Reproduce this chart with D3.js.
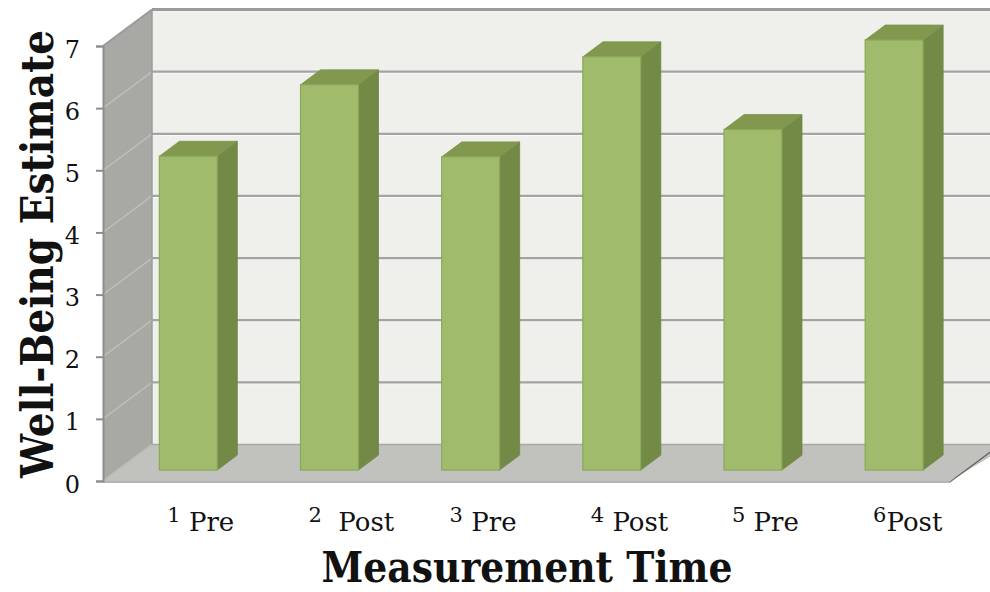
<!DOCTYPE html>
<html>
<head>
<meta charset="utf-8">
<script src="https://cdn.jsdelivr.net/npm/d3@7"></script>
<style>
  html, body { margin: 0; padding: 0; background: #ffffff; }
  svg { display: block; }
  text { font-family: "DejaVu Serif", "Liberation Serif", serif; fill: #111; }
</style>
</head>
<body>
<svg id="chart" width="990" height="592"></svg>
<script>
// Measurement occasions and mean well-being estimates
const timeLabels = ["1 Pre", "2  Post", "3 Pre", "4 Post", "5 Pre", "6Post"];
const wellBeing = [5.05, 6.2, 5.04, 6.65, 5.48, 6.92];
const yTicks = [0, 1, 2, 3, 4, 5, 6, 7];
const xTitle = "Measurement Time";
const yTitle = "Well-Being Estimate";

const svg = d3.select("#chart");

// Front plane of the 3-D box and its depth offset
const y = d3.scaleLinear().domain([0, 7]).range([481, 46]);
const x = d3.scaleBand().domain(timeLabels).range([103, 950])
  .paddingInner(0.59).paddingOuter(0.295);
const DX = 49, DY = -36.5;          // full depth of the box
const fFront = 0.30, fBack = 0.71;  // bar depth within the box
const yMax = d3.max(yTicks);
const rightEdge = 1000;

const pt = (px, py) => px + "," + py;
const poly = pts => pts.map(p => pt(p[0], p[1])).join(" ");

const box = svg.append("g");

// Back wall
box.append("polygon")
  .attr("points", poly([[103 + DX, y(yMax) + DY], [rightEdge, y(yMax) + DY],
                        [rightEdge, y(0) + DY], [103 + DX, y(0) + DY]]))
  .attr("fill", "#eff0ec");

// Left side wall
box.append("polygon")
  .attr("points", poly([[103, y(yMax)], [103 + DX, y(yMax) + DY],
                        [103 + DX, y(0) + DY], [103, y(0)]]))
  .attr("fill", "#a8a8a5");

// Floor
box.append("polygon")
  .attr("points", poly([[103, y(0)], [103 + DX, y(0) + DY],
                        [rightEdge + 10, y(0) + DY], [950, y(0)]]))
  .attr("fill", "#c1c2bd");

// Floor shadow edge
box.append("polyline")
  .attr("points", poly([[103, y(0) + 1], [950, y(0) + 1], [950 + DX, y(0) + DY + 1]]))
  .attr("fill", "none").attr("stroke", "#3a3a3a").attr("stroke-width", 1.2)
  .attr("opacity", 0.75);

// Gridlines on back wall and side wall
const grid = box.append("g");
yTicks.forEach(v => {
  if (v > 0) {
    grid.append("line")
      .attr("x1", 103 + DX).attr("x2", rightEdge)
      .attr("y1", y(v) + DY + 1.5).attr("y2", y(v) + DY + 1.5)
      .attr("stroke", "#ffffff").attr("stroke-width", 1).attr("opacity", 0.7);
    grid.append("line")
      .attr("x1", 103 + DX).attr("x2", rightEdge)
      .attr("y1", y(v) + DY).attr("y2", y(v) + DY)
      .attr("stroke", v === yMax ? "#9a9a9a" : "#a3a3a3")
      .attr("stroke-width", v === yMax ? 3 : 2.2);
  }
  grid.append("line")
    .attr("x1", 103).attr("y1", y(v))
    .attr("x2", 103 + DX).attr("y2", y(v) + DY)
    .attr("stroke", v === yMax ? "#9a9a9a" : "#bdbdba")
    .attr("stroke-width", v === yMax ? 2 : 1.6);
});
// Back corner edge
grid.append("line")
  .attr("x1", 103 + DX).attr("x2", 103 + DX)
  .attr("y1", y(yMax) + DY).attr("y2", y(0) + DY)
  .attr("stroke", "#9c9c99").attr("stroke-width", 1.5);
// Floor back edge
grid.append("line")
  .attr("x1", 103 + DX).attr("x2", rightEdge)
  .attr("y1", y(0) + DY).attr("y2", y(0) + DY)
  .attr("stroke", "#a8a8a6").attr("stroke-width", 1.5);

// Bars as shaded boxes
const bw = x.bandwidth();
const bars = svg.append("g").selectAll("g.bar")
  .data(timeLabels.map((c, i) => ({ c, v: wellBeing[i] })))
  .join("g").attr("class", "bar");

bars.each(function (d) {
  const g = d3.select(this);
  const x0 = x(d.c) + fFront * DX, x1 = x0 + bw;
  const yt = y(d.v) + fFront * DY, yb = y(0) + fFront * DY;
  const ddx = (fBack - fFront) * DX, ddy = (fBack - fFront) * DY;
  // right side face
  g.append("polygon")
    .attr("points", poly([[x1, yt], [x1 + ddx, yt + ddy], [x1 + ddx, yb + ddy], [x1, yb]]))
    .attr("fill", "#738a47").attr("stroke", "#6e8443").attr("stroke-width", 0.8);
  // top face
  g.append("polygon")
    .attr("points", poly([[x0, yt], [x0 + ddx, yt + ddy], [x1 + ddx, yt + ddy], [x1, yt]]))
    .attr("fill", "#83984f").attr("stroke", "#7d934b").attr("stroke-width", 0.8);
  // front face
  g.append("rect")
    .attr("x", x0).attr("y", yt).attr("width", bw).attr("height", yb - yt)
    .attr("fill", "#a1bb6c").attr("stroke", "#8ba85a").attr("stroke-width", 1.2);
});

// Value axis on the front-left edge
const yAxis = d3.axisLeft(y).tickValues(yTicks).tickFormat(d3.format("d"))
  .tickSize(7).tickPadding(16);
const ag = svg.append("g").attr("transform", "translate(103,0)").call(yAxis);
ag.select(".domain").attr("stroke", "#8e8e8e").attr("stroke-width", 2);
ag.selectAll(".tick line").attr("stroke", "#8e8e8e").attr("stroke-width", 2);
ag.selectAll(".tick text")
  .attr("font-family", "DejaVu Serif, serif").attr("font-size", 24)
  .attr("fill", "#111").attr("dy", "0.46em");

// Category labels: raised occasion number followed by the phase
const xl = svg.append("g");
timeLabels.forEach(c => {
  const cx = x(c) + fFront * DX + bw / 2;
  const t = xl.append("text")
    .attr("x", cx - 21).attr("y", 531)
    .attr("xml:space", "preserve").style("white-space", "pre");
  t.append("tspan").attr("font-size", 21).attr("dy", -9).text(c.slice(0, 1));
  t.append("tspan").attr("font-size", 26).attr("dy", 9).text(c.slice(1));
});

// Axis titles
svg.append("text")
  .attr("x", 527).attr("y", 582).attr("text-anchor", "middle")
  .attr("font-size", 42).attr("font-weight", "bold")
  .attr("textLength", 411).attr("lengthAdjust", "spacingAndGlyphs")
  .text(xTitle);

svg.append("text")
  .attr("transform", "translate(53,254) rotate(-90)")
  .attr("text-anchor", "middle")
  .attr("font-size", 44).attr("font-weight", "bold")
  .attr("textLength", 448).attr("lengthAdjust", "spacingAndGlyphs")
  .text(yTitle);
</script>
</body>
</html>
